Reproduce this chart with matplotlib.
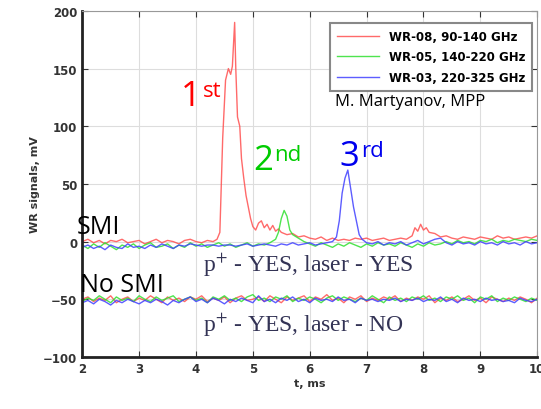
import matplotlib.pyplot as plt

# SMI traces (laser on)
t_red = [2.0, 2.1, 2.2, 2.3, 2.4, 2.5, 2.6, 2.7, 2.8, 2.9, 3.0, 3.1, 3.2, 3.3, 3.4, 3.5, 3.6, 3.7, 3.8, 3.9,
         4.0, 4.1, 4.2, 4.3, 4.37, 4.42, 4.47, 4.52, 4.57, 4.61, 4.64, 4.68, 4.70, 4.73, 4.77, 4.80, 4.84,
         4.88, 4.92, 4.96, 5.0, 5.05, 5.1, 5.15, 5.2, 5.25, 5.3, 5.35, 5.4, 5.45, 5.5, 5.6, 5.7, 5.8, 5.9,
         6.0, 6.1, 6.2, 6.3, 6.4, 6.5, 6.6, 6.7, 6.8, 6.9, 7.0, 7.1, 7.2, 7.3, 7.4, 7.5, 7.6, 7.7, 7.8,
         7.85, 7.9, 7.95, 8.0, 8.05, 8.1, 8.2, 8.3, 8.4, 8.5, 8.6, 8.7, 8.8, 8.9, 9.0, 9.1, 9.2, 9.3,
         9.4, 9.5, 9.6, 9.7, 9.8, 9.9, 10.0]
v_red = [0, 2, -1, 1, -2, 1, 0, 2, -1, 0, 1, -2, 0, 2, -1, 1, 0, -2, 1, 2,
         0, -1, 1, 0, 2, 8, 90, 140, 150, 145, 152, 190, 150, 108, 100, 72, 55,
         40, 30, 20, 13, 10, 16, 18, 12, 15, 10, 14, 9, 11, 8, 6, 7, 4, 5,
         3, 2, 4, 1, 3, 1, 2, 1, 3, 2, 3, 1, 2, 3, 1, 2, 3, 2, 5,
         12, 9, 15, 10, 12, 8, 7, 4, 5, 3, 2, 4, 3, 2, 4, 3, 2, 5,
         3, 4, 2, 3, 4, 3, 5]

t_green = [2.0, 2.1, 2.2, 2.3, 2.4, 2.5, 2.6, 2.7, 2.8, 2.9, 3.0, 3.1, 3.2, 3.3, 3.4, 3.5, 3.6, 3.7, 3.8, 3.9,
           4.0, 4.1, 4.2, 4.3, 4.4, 4.5, 4.6, 4.7, 4.8, 4.9, 5.0, 5.1, 5.2, 5.3, 5.4, 5.45, 5.5, 5.55,
           5.6, 5.65, 5.7, 5.8, 5.9, 6.0, 6.1, 6.2, 6.3, 6.4, 6.5, 6.6, 6.7, 6.8, 6.9, 7.0, 7.1, 7.2,
           7.3, 7.4, 7.5, 7.6, 7.7, 7.8, 7.9, 8.0, 8.1, 8.2, 8.3, 8.4, 8.5, 8.6, 8.7, 8.8, 8.9, 9.0,
           9.1, 9.2, 9.3, 9.4, 9.5, 9.6, 9.7, 9.8, 9.9, 10.0]
v_green = [-3, -6, -2, -5, -1, -4, -7, -3, -5, -2, -6, -3, -1, -5, -4, -2, -6, -3, -5, -1,
           -4, -2, -5, -3, -1, -4, -2, -5, -3, -1, -4, -2, -3, -1, 2, 8, 20, 27,
           22, 10, 6, 3, 0, -2, -4, -1, -3, -5, -2, -4, -1, -3, -5, -2, -4, -1,
           -3, -2, -4, -1, -3, -5, -2, -4, -1, -3, -2, 0, -2, 1, -1, 0, -2, 1,
           0, 2, -1, 1, 0, 2, 1, 0, 2, 1]

t_blue = [2.0, 2.1, 2.2, 2.3, 2.4, 2.5, 2.6, 2.7, 2.8, 2.9, 3.0, 3.1, 3.2, 3.3, 3.4, 3.5, 3.6, 3.7, 3.8, 3.9,
          4.0, 4.1, 4.2, 4.3, 4.4, 4.5, 4.6, 4.7, 4.8, 4.9, 5.0, 5.1, 5.2, 5.3, 5.4, 5.5, 5.6, 5.7,
          5.8, 5.9, 6.0, 6.1, 6.2, 6.3, 6.4, 6.47, 6.52, 6.57, 6.62, 6.67, 6.72, 6.77, 6.82, 6.87, 6.92,
          7.0, 7.1, 7.2, 7.3, 7.4, 7.5, 7.6, 7.7, 7.8, 7.9, 8.0, 8.1, 8.2, 8.3, 8.4, 8.5, 8.6, 8.7,
          8.8, 8.9, 9.0, 9.1, 9.2, 9.3, 9.4, 9.5, 9.6, 9.7, 9.8, 9.9, 10.0]
v_blue = [-5, -3, -6, -4, -7, -3, -5, -6, -2, -5, -4, -6, -3, -5, -2, -4, -6, -3, -4, -2,
          -3, -4, -3, -3, -4, -3, -3, -4, -3, -2, -4, -3, -2, -3, -4, -2, -3, -1,
          -3, -2, -1, -3, -2, -1, 0, 4, 18, 42, 55, 62, 46, 30, 18, 6, 2,
          -1, -2, 0, -3, -1, -2, 0, -3, -1, 1, -2, 0, 2, 3, -1, -3, 0, -2,
          -1, -3, 0, -2, -1, -3, 0, -2, -1, -3, 0, -2, -1]

# No SMI traces (laser off)
t_off = [2.0, 2.1, 2.2, 2.3, 2.4, 2.5, 2.6, 2.7, 2.8, 2.9, 3.0, 3.1, 3.2, 3.3, 3.4, 3.5, 3.6, 3.7, 3.8, 3.9,
         4.0, 4.1, 4.2, 4.3, 4.4, 4.5, 4.6, 4.7, 4.8, 4.9, 5.0, 5.1, 5.2, 5.3, 5.4, 5.5, 5.6, 5.7, 5.8, 5.9,
         6.0, 6.1, 6.2, 6.3, 6.4, 6.5, 6.6, 6.7, 6.8, 6.9, 7.0, 7.1, 7.2, 7.3, 7.4, 7.5, 7.6, 7.7, 7.8, 7.9,
         8.0, 8.1, 8.2, 8.3, 8.4, 8.5, 8.6, 8.7, 8.8, 8.9, 9.0, 9.1, 9.2, 9.3, 9.4, 9.5, 9.6, 9.7, 9.8, 9.9, 10.0]
v_red_off = [-50, -48, -52, -49, -51, -47, -53, -50, -48, -52, -49, -51, -47, -50, -53, -48, -51, -49, -52, -48,
             -50, -47, -52, -49, -51, -48, -53, -49, -47, -51, -50, -48, -52, -47, -50, -53, -48, -51, -49, -47,
             -52, -48, -50, -46, -51, -49, -53, -48, -50, -47, -52, -49, -51, -48, -50, -47, -52, -49, -51, -48,
             -50, -47, -53, -49, -51, -48, -52, -50, -47, -51, -49, -53, -48, -50, -52, -49, -51, -48, -50, -53, -49]
v_green_off = [-52, -49, -51, -47, -50, -53, -48, -51, -49, -52, -47, -50, -52, -48, -51, -49, -47, -52, -50, -48,
               -51, -49, -53, -48, -50, -47, -51, -49, -52, -48, -46, -51, -49, -52, -48, -50, -47, -52, -49, -51,
               -48, -50, -53, -49, -47, -51, -48, -50, -52, -49, -51, -47, -50, -53, -48, -51, -49, -52, -48, -50,
               -47, -51, -49, -52, -48, -50, -47, -51, -49, -53, -48, -50, -47, -52, -49, -51, -48, -50, -52, -49, -51]
v_blue_off = [-53, -51, -54, -50, -52, -55, -51, -53, -50, -52, -54, -51, -53, -50, -52, -55, -51, -53, -50, -48,
              -52, -50, -53, -49, -51, -54, -50, -52, -49, -51, -53, -47, -52, -50, -53, -49, -51, -48, -52, -50,
              -53, -49, -51, -50, -52, -48, -51, -50, -53, -49, -51, -50, -52, -50, -51, -49, -52, -50, -51, -49,
              -52, -50, -51, -48, -52, -50, -53, -49, -51, -50, -52, -49, -51, -50, -52, -51, -53, -49, -51, -52, -50]

legend_labels = ["WR-08, 90-140 GHz", "WR-05, 140-220 GHz", "WR-03, 220-325 GHz"]
colors = ["#ff5050", "#30e030", "#4040ff"]

fig = plt.figure(figsize=(5.41, 4.10), dpi=100)
ax = fig.add_axes([0.152, 0.127, 0.841, 0.844])

ax.plot(t_red, v_red, color=colors[0], lw=1.0, alpha=0.85, label=legend_labels[0])
ax.plot(t_green, v_green, color=colors[1], lw=1.0, alpha=0.85, label=legend_labels[1])
ax.plot(t_blue, v_blue, color=colors[2], lw=1.0, alpha=0.85, label=legend_labels[2])
ax.plot(t_off, v_red_off, color=colors[0], lw=1.0, alpha=0.85)
ax.plot(t_off, v_green_off, color=colors[1], lw=1.0, alpha=0.85)
ax.plot(t_off, v_blue_off, color=colors[2], lw=1.0, alpha=0.85)

ax.set_xlim(2, 10)
ax.set_ylim(-100, 200)
ax.set_xticks(range(2, 11))
ax.set_yticks([-100, -50, 0, 50, 100, 150, 200])
ax.grid(True, color="#dddddd", lw=0.8)
ax.tick_params(direction="in", top=True, right=True, labelsize=8.5, colors="#333333", length=4)
for lab in ax.get_xticklabels() + ax.get_yticklabels():
    lab.set_fontweight("bold")
ax.spines["left"].set_linewidth(2)
ax.spines["bottom"].set_linewidth(2)
ax.spines["left"].set_color("#222222")
ax.spines["bottom"].set_color("#222222")
ax.spines["top"].set_color("#999999")
ax.spines["right"].set_color("#999999")

ax.set_xlabel("t, ms", fontsize=8, color="#333333", fontweight="bold", labelpad=2)
ax.set_ylabel("WR signals, mV", fontsize=8, color="#333333", fontweight="bold", labelpad=2)

leg = ax.legend(loc="upper right", bbox_to_anchor=(0.989, 0.966), borderaxespad=0, handlelength=3.6,
                fancybox=False, edgecolor="#888888", framealpha=1, borderpad=0.6, labelspacing=0.65,
                prop={"weight": "bold", "size": 8.5})
leg.get_frame().set_linewidth(1.5)

# annotations
ax.text(3.74, 118, "1", color="red", fontsize=25, family="Open Sans")
ax.text(4.12, 126, "st", color="red", fontsize=16, family="Open Sans")
ax.text(5.0, 63, "2", color="#00cc00", fontsize=25, family="Open Sans")
ax.text(5.38, 71, "nd", color="#00cc00", fontsize=16, family="Open Sans")
ax.text(6.53, 66, "3", color="#0000ee", fontsize=25, family="Open Sans")
ax.text(6.9, 74, "rd", color="#0000ee", fontsize=16, family="Open Sans")
ax.text(6.44, 118, "M. Martyanov, MPP", color="black", fontsize=12, family="Open Sans")
ax.text(1.91, 7.5, "SMI", color="black", fontsize=18, family="Open Sans", clip_on=False)
ax.text(1.96, -43, "No SMI", color="black", fontsize=18, family="Open Sans", clip_on=False)
ax.text(4.12, -25, "p$^{+}$ - YES, laser - YES", color="#333355", fontsize=17,
        family="Liberation Serif", math_fontfamily="stix")
ax.text(4.12, -77, "p$^{+}$ - YES, laser - NO", color="#333355", fontsize=17,
        family="Liberation Serif", math_fontfamily="stix")

fig.savefig("out.png", dpi=100)
